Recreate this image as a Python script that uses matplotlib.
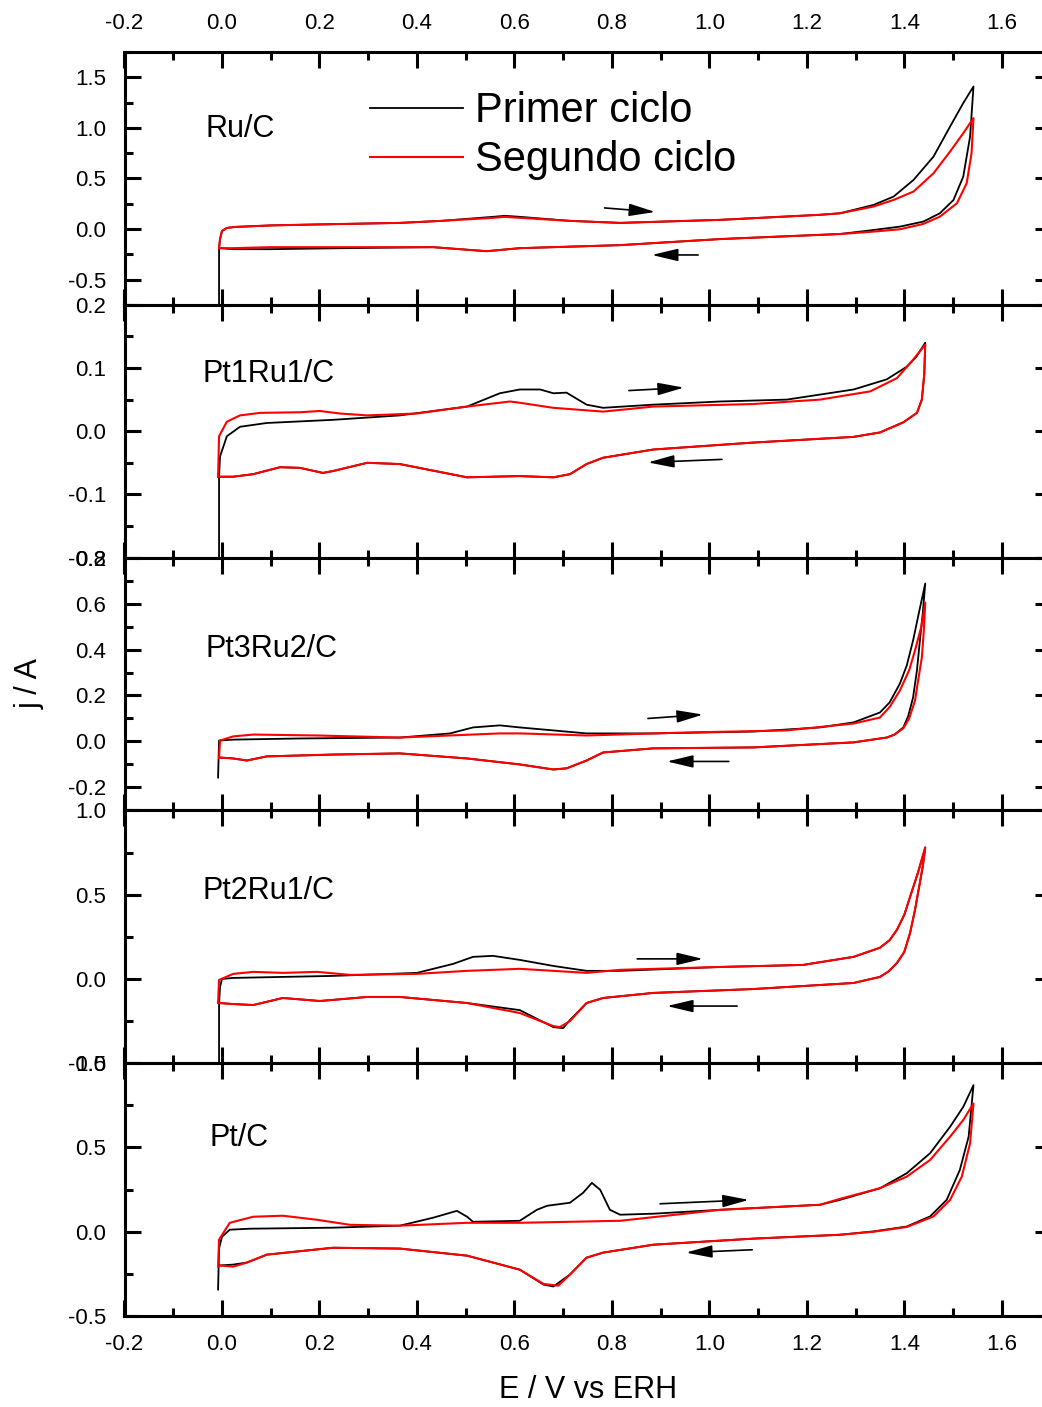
import numpy as np
import matplotlib
matplotlib.use("Agg")
import matplotlib.pyplot as plt
from matplotlib.ticker import FixedLocator, FormatStrFormatter

plt.rcParams['font.family'] = ['Liberation Sans', 'DejaVu Sans']
plt.rcParams['axes.unicode_minus'] = False

# ---- data (E in V vs ERH, j in A) ----
# Ru/C
ru_e1 = [-0.006, -0.006, -0.004, 0.0, 0.01, 0.027, 0.1, 0.2, 0.365, 0.45, 0.556, 0.58, 0.611, 0.714, 0.817,
         1.022, 1.227, 1.268, 1.337, 1.378, 1.419, 1.46, 1.494, 1.521, 1.542,
         1.535, 1.521, 1.501, 1.473, 1.439, 1.391, 1.337, 1.268, 1.022,
         0.817, 0.611, 0.543, 0.433, 0.25, 0.1, 0.023, -0.004]
ru_j1 = [-0.9, -0.19, -0.1, -0.02, 0.01, 0.02, 0.035, 0.045, 0.06, 0.08, 0.12, 0.13, 0.12, 0.08, 0.06,
         0.09, 0.14, 0.155, 0.238, 0.32, 0.485, 0.716, 1.013, 1.245, 1.409,
         0.914, 0.518, 0.287, 0.155, 0.073, 0.023, -0.01, -0.05, -0.10,
         -0.16, -0.19, -0.22, -0.18, -0.19, -0.20, -0.20, -0.19]
ru_e2 = [-0.006, -0.004, 0.0, 0.01, 0.027, 0.1, 0.2, 0.365, 0.45, 0.556, 0.58, 0.611, 0.714, 0.817, 1.022,
         1.227, 1.268, 1.337, 1.378, 1.419, 1.46, 1.494, 1.521, 1.542,
         1.538, 1.528, 1.508, 1.473, 1.439, 1.391, 1.337, 1.268, 1.022, 0.817,
         0.611, 0.543, 0.433, 0.25, 0.1, 0.023, -0.006]
ru_j2 = [-0.19, -0.1, -0.02, 0.01, 0.02, 0.035, 0.045, 0.06, 0.08, 0.11, 0.12, 0.11, 0.08, 0.06, 0.09,
         0.14, 0.155, 0.222, 0.287, 0.37, 0.551, 0.766, 0.947, 1.096,
         0.749, 0.452, 0.254, 0.122, 0.05, -0.003, -0.026, -0.05, -0.10, -0.16,
         -0.19, -0.22, -0.18, -0.18, -0.18, -0.19, -0.19]

# Pt1Ru1/C
p11_e1 = [-0.006, -0.006, -0.004, 0.01, 0.037, 0.092, 0.228, 0.365, 0.503, 0.57, 0.611, 0.653, 0.68, 0.707,
          0.748, 0.782, 0.885, 1.022, 1.159, 1.296, 1.364, 1.405, 1.425, 1.443, 1.441, 1.436, 1.426, 1.398,
          1.35, 1.296, 1.09, 0.885, 0.782, 0.748, 0.714, 0.68, 0.611, 0.503, 0.365, 0.298, 0.228, 0.207,
          0.16, 0.119, 0.064, 0.023, -0.006]
p11_j1 = [-0.25, -0.072, -0.04, -0.008, 0.007, 0.013, 0.018, 0.025, 0.039, 0.06, 0.066, 0.066, 0.06, 0.061,
          0.042, 0.037, 0.042, 0.047, 0.05, 0.066, 0.082, 0.102, 0.118, 0.14, 0.09, 0.05, 0.029, 0.014,
          -0.002, -0.009, -0.018, -0.029, -0.042, -0.052, -0.068, -0.073, -0.071, -0.073, -0.052, -0.05,
          -0.063, -0.066, -0.058, -0.057, -0.068, -0.072, -0.072]
p11_e2 = [-0.008, -0.006, 0.01, 0.037, 0.078, 0.16, 0.201, 0.242, 0.298, 0.40, 0.503, 0.591, 0.611, 0.68,
          0.782, 0.885, 1.09, 1.227, 1.33, 1.385, 1.418, 1.443, 1.441, 1.436, 1.426, 1.398, 1.35, 1.296,
          1.09, 0.885, 0.782, 0.748, 0.714, 0.68, 0.611, 0.503, 0.365, 0.298, 0.228, 0.207, 0.16, 0.119,
          0.064, 0.023, -0.008]
p11_j2 = [-0.072, -0.008, 0.015, 0.025, 0.029, 0.03, 0.032, 0.028, 0.025, 0.028, 0.039, 0.047, 0.045, 0.037,
          0.031, 0.039, 0.043, 0.05, 0.063, 0.084, 0.113, 0.137, 0.09, 0.05, 0.029, 0.014, -0.002, -0.009,
          -0.018, -0.029, -0.042, -0.052, -0.068, -0.073, -0.071, -0.073, -0.052, -0.05, -0.063, -0.066,
          -0.058, -0.057, -0.068, -0.072, -0.072]

# Pt3Ru2/C
p32_e1 = [-0.008, -0.006, 0.023, 0.16, 0.365, 0.468, 0.515, 0.57, 0.611, 0.68, 0.748, 0.885, 1.09, 1.227,
          1.296, 1.35, 1.37, 1.391, 1.405, 1.418, 1.43, 1.443, 1.438, 1.432, 1.426, 1.418, 1.408, 1.398,
          1.38, 1.364, 1.296, 1.09, 0.885, 0.782, 0.748, 0.707, 0.68, 0.611, 0.503, 0.365, 0.228, 0.092,
          0.051, 0.023, -0.004]
p32_j1 = [-0.157, 0.004, 0.008, 0.013, 0.017, 0.035, 0.061, 0.07, 0.061, 0.048, 0.035, 0.035, 0.043, 0.061,
          0.083, 0.126, 0.17, 0.252, 0.33, 0.439, 0.56, 0.687, 0.56, 0.439, 0.31, 0.191, 0.11, 0.061,
          0.03, 0.017, -0.004, -0.026, -0.03, -0.048, -0.083, -0.117, -0.122, -0.1, -0.074, -0.052, -0.057,
          -0.065, -0.083, -0.074, -0.07]
p32_e2 = [-0.006, -0.004, 0.023, 0.064, 0.195, 0.365, 0.57, 0.611, 0.748, 0.954, 1.159, 1.296, 1.35, 1.37,
          1.391, 1.41, 1.422, 1.435, 1.443, 1.440, 1.436, 1.428, 1.422, 1.41, 1.398, 1.38, 1.364, 1.296,
          1.09, 0.885, 0.782, 0.748, 0.707, 0.68, 0.611, 0.503, 0.365, 0.228, 0.092, 0.051, 0.023, -0.006]
p32_j2 = [-0.07, 0.004, 0.022, 0.03, 0.026, 0.017, 0.035, 0.035, 0.026, 0.039, 0.048, 0.078, 0.104, 0.15,
          0.222, 0.31, 0.396, 0.5, 0.604, 0.48, 0.365, 0.26, 0.178, 0.1, 0.057, 0.03, 0.017, -0.004,
          -0.026, -0.03, -0.048, -0.083, -0.117, -0.122, -0.1, -0.074, -0.052, -0.057, -0.065, -0.083,
          -0.074, -0.07]

# Pt2Ru1/C
p21_e1 = [-0.006, -0.006, -0.004, 0.0, 0.023, 0.228, 0.40, 0.474, 0.515, 0.556, 0.611, 0.68, 0.748, 0.817,
          1.022, 1.192, 1.296, 1.35, 1.37, 1.385, 1.40, 1.412, 1.428, 1.443, 1.438, 1.432, 1.422, 1.412,
          1.40, 1.385, 1.368, 1.35, 1.296, 1.09, 0.885, 0.782, 0.748, 0.714, 0.70, 0.68, 0.611, 0.503,
          0.365, 0.298, 0.201, 0.125, 0.064, 0.023, -0.004]
p21_j1 = [-0.6, -0.15, -0.048, 0.0, 0.006, 0.018, 0.036, 0.089, 0.131, 0.137, 0.113, 0.077, 0.048, 0.048,
          0.071, 0.083, 0.131, 0.185, 0.23, 0.292, 0.38, 0.488, 0.63, 0.78, 0.67, 0.571, 0.41, 0.274,
          0.16, 0.095, 0.045, 0.012, -0.024, -0.06, -0.083, -0.113, -0.143, -0.244, -0.292, -0.286,
          -0.185, -0.143, -0.107, -0.107, -0.131, -0.113, -0.155, -0.149, -0.143]
p21_e2 = [-0.008, -0.006, 0.023, 0.064, 0.125, 0.195, 0.263, 0.40, 0.503, 0.611, 0.748, 0.817, 1.022, 1.192,
          1.296, 1.35, 1.37, 1.385, 1.40, 1.412, 1.428, 1.443, 1.438, 1.432, 1.422, 1.412, 1.40, 1.385,
          1.368, 1.35, 1.296, 1.09, 0.885, 0.782, 0.748, 0.714, 0.693, 0.68, 0.611, 0.503, 0.365, 0.298,
          0.201, 0.125, 0.064, 0.023, -0.006]
p21_j2 = [-0.143, -0.006, 0.03, 0.042, 0.036, 0.042, 0.024, 0.03, 0.048, 0.06, 0.036, 0.054, 0.071, 0.083,
          0.131, 0.185, 0.23, 0.292, 0.38, 0.488, 0.63, 0.78, 0.67, 0.571, 0.41, 0.274, 0.16, 0.095,
          0.045, 0.012, -0.024, -0.06, -0.083, -0.113, -0.143, -0.25, -0.286, -0.28, -0.202, -0.143, -0.107,
          -0.107, -0.131, -0.113, -0.155, -0.149, -0.143]

# Pt/C
pt_e1 = [-0.008, -0.006, 0.0, 0.016, 0.057, 0.228, 0.365, 0.433, 0.482, 0.503, 0.515, 0.611, 0.646, 0.667,
         0.714, 0.741, 0.759, 0.776, 0.796, 0.817, 0.885, 1.022, 1.227, 1.268, 1.35, 1.405, 1.453, 1.494,
         1.521, 1.542, 1.532, 1.514, 1.487, 1.453, 1.405, 1.337, 1.268, 1.09, 0.885, 0.782, 0.748, 0.714,
         0.68, 0.66, 0.611, 0.503, 0.365, 0.228, 0.092, 0.051, 0.023, -0.004]
pt_j1 = [-0.343, -0.1, -0.03, 0.012, 0.018, 0.024, 0.036, 0.083, 0.124, 0.089, 0.059, 0.065, 0.13, 0.154,
         0.172, 0.231, 0.29, 0.249, 0.13, 0.101, 0.107, 0.13, 0.16, 0.189, 0.258, 0.347, 0.466, 0.623,
         0.741, 0.87, 0.564, 0.367, 0.189, 0.091, 0.031, 0.002, -0.018, -0.041, -0.077, -0.124, -0.154,
         -0.254, -0.325, -0.314, -0.225, -0.142, -0.1, -0.095, -0.136, -0.183, -0.195, -0.2]
pt_e2 = [-0.008, -0.006, 0.016, 0.064, 0.125, 0.195, 0.263, 0.365, 0.503, 0.611, 0.817, 1.022, 1.227, 1.268,
         1.35, 1.405, 1.453, 1.494, 1.521, 1.542, 1.535, 1.518, 1.494, 1.46, 1.405, 1.337, 1.268, 1.09,
         0.885, 0.782, 0.748, 0.714, 0.69, 0.66, 0.611, 0.503, 0.365, 0.228, 0.092, 0.051, 0.023, -0.006]
pt_j2 = [-0.207, -0.047, 0.053, 0.089, 0.095, 0.071, 0.041, 0.036, 0.053, 0.053, 0.065, 0.13, 0.16, 0.195,
         0.258, 0.327, 0.426, 0.564, 0.663, 0.761, 0.525, 0.327, 0.189, 0.091, 0.028, 0.0, -0.018, -0.041,
         -0.077, -0.124, -0.154, -0.254, -0.32, -0.31, -0.225, -0.142, -0.1, -0.095, -0.136, -0.183,
         -0.207, -0.2]

names = ['Ru/C', 'Pt1Ru1/C', 'Pt3Ru2/C', 'Pt2Ru1/C', 'Pt/C']
cycle1 = [(ru_e1, ru_j1), (p11_e1, p11_j1), (p32_e1, p32_j1), (p21_e1, p21_j1), (pt_e1, pt_j1)]
cycle2 = [(ru_e2, ru_j2), (p11_e2, p11_j2), (p32_e2, p32_j2), (p21_e2, p21_j2), (pt_e2, pt_j2)]
ylims = [(-0.75, 1.75), (-0.2, 0.2), (-0.3, 0.8), (-0.5, 1.0), (-0.5, 1.0)]
ymajor = [[-0.5, 0.0, 0.5, 1.0, 1.5], [-0.2, -0.1, 0.0, 0.1, 0.2], [-0.2, 0.0, 0.2, 0.4, 0.6, 0.8],
          [-0.5, 0.0, 0.5, 1.0], [-0.5, 0.0, 0.5, 1.0]]
yminor = [[-0.75, -0.25, 0.25, 0.75, 1.25, 1.75], [-0.15, -0.05, 0.05, 0.15],
          [-0.3, -0.1, 0.1, 0.3, 0.5, 0.7], [-0.25, 0.25, 0.75], [-0.25, 0.25, 0.75]]
xmajor = [-0.2, 0.0, 0.2, 0.4, 0.6, 0.8, 1.0, 1.2, 1.4, 1.6]
xminor = [-0.1, 0.1, 0.3, 0.5, 0.7, 0.9, 1.1, 1.3, 1.5, 1.7]
# arrows: (tail, head) for forward and backward scans
arrows = [[((0.785, 0.208), (0.889, 0.168)), ((0.977, -0.257), (0.882, -0.257))],
          [((0.835, 0.0643), (0.948, 0.069)), ((1.026, -0.0446), (0.874, -0.0494))],
          [((0.874, 0.10), (0.987, 0.117)), ((1.040, -0.087), (0.913, -0.087))],
          [((0.852, 0.119), (0.987, 0.119)), ((1.057, -0.161), (0.913, -0.161))],
          [((0.899, 0.166), (1.081, 0.189)), ((1.088, -0.107), (0.952, -0.124))]]
label_pos = [(0.087, 0.665), (0.084, 0.696), (0.088, 0.606), (0.084, 0.65), (0.092, 0.672)]

W, H = 1042, 1407
fig = plt.figure(figsize=(W / 100, H / 100), dpi=100)
left_px, width_px, top_px, ph = 124.5, 926.0, 52.0, 252.8

for i in range(5):
    bottom = 1 - (top_px + (i + 1) * ph) / H
    ax = fig.add_axes([left_px / W, bottom, width_px / W, ph / H])
    e1, j1 = cycle1[i]
    e2, j2 = cycle2[i]
    ax.plot(e1, j1, color='black', lw=1.3, label='Primer ciclo')
    ax.plot(e2, j2, color='red', lw=1.5, label='Segundo ciclo')
    ax.set_xlim(-0.2, 1.7)
    ax.set_ylim(*ylims[i])
    ax.xaxis.set_major_locator(FixedLocator(xmajor))
    ax.xaxis.set_minor_locator(FixedLocator(xminor))
    ax.yaxis.set_major_locator(FixedLocator(ymajor[i]))
    ax.yaxis.set_minor_locator(FixedLocator(yminor[i]))
    ax.xaxis.set_major_formatter(FormatStrFormatter('%.1f'))
    ax.yaxis.set_major_formatter(FormatStrFormatter('%.1f'))
    ax.tick_params(which='both', direction='in', top=True, right=True, width=2.2,
                   labelsize=16, pad=13, labeltop=(i == 0), labelbottom=(i == 4))
    ax.tick_params(which='major', length=11.5)
    ax.tick_params(which='minor', length=5.8)
    for s in ax.spines.values():
        s.set_linewidth(2.2)
    ax.text(label_pos[i][0], label_pos[i][1], names[i], transform=ax.transAxes,
            fontsize=22, va='baseline', ha='left')
    for tail, head in arrows[i]:
        ax.annotate('', xy=head, xytext=tail,
                    arrowprops=dict(arrowstyle='-|>,head_length=1.6,head_width=0.38',
                                    color='black', lw=1.2, mutation_scale=10,
                                    shrinkA=0, shrinkB=0))
    if i == 0:
        ax.legend(loc='upper left', bbox_to_anchor=(0.265, 0.845), frameon=False,
                  fontsize=30, handlelength=2.23, handletextpad=0.3,
                  borderaxespad=0, borderpad=0, labelspacing=0.22)

fig.text(588 / W, 1 - 1390 / H, 'E / V vs ERH', fontsize=22, ha='center', va='center')
fig.text(30 / W, 1 - 683 / H, 'j / A', fontsize=22, ha='center', va='center', rotation=90)

fig.savefig('out.png', dpi=100)
